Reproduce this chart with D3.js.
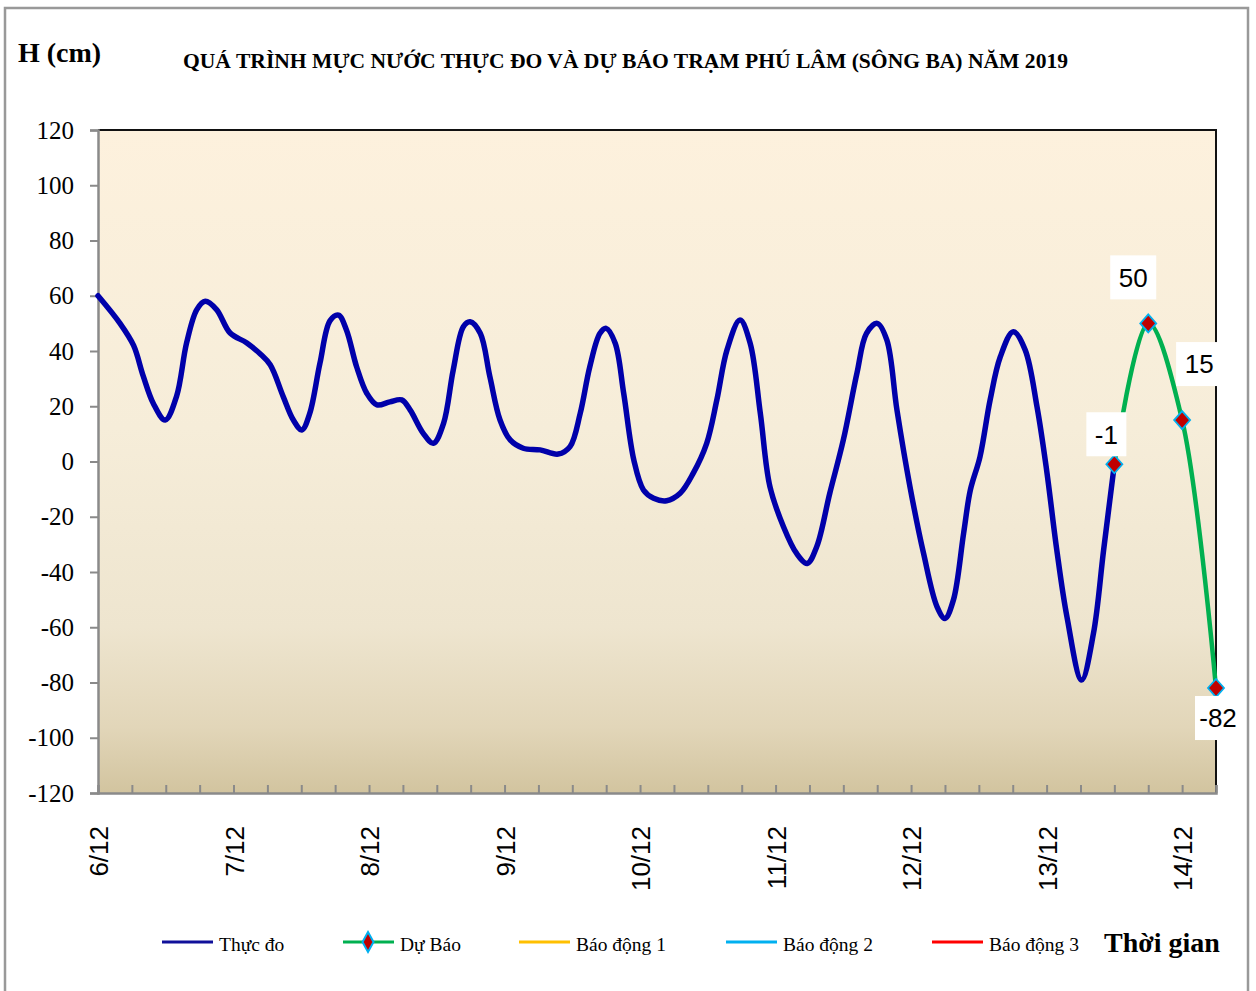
<!DOCTYPE html>
<html>
<head>
<meta charset="utf-8">
<script src="https://cdn.jsdelivr.net/npm/d3@7"></script>
<style>
  html, body { margin: 0; padding: 0; background: #ffffff; }
  svg { display: block; }
</style>
</head>
<body>
<div id="chart"></div>
<script>
// ---------------- DATA ----------------
const obsHours = [0, 3.9, 6.3, 8.0, 9.8, 11.9, 13.9, 15.7, 17.5, 19.0, 21.0, 23.4, 26.3, 28.7, 30.5, 32.8, 34.6, 36.1,
  37.5, 39.3, 41.1, 42.6, 44.0, 45.8, 47.6, 49.4, 51.7, 53.8, 55.3, 57.6, 59.4, 61.2, 62.9, 64.7, 65.9, 67.7,
  69.4, 71.2, 73.0, 75.3, 78.3, 81.5, 83.6, 85.4, 87.1, 88.9, 90.0, 91.6, 93.1, 94.9, 96.6, 98.4, 100.7, 103.1,
  105.4, 107.8, 109.6, 111.4, 113.7, 115.5, 117.3, 119.0, 121.4, 123.7, 125.6, 127.3, 129.6, 132.0, 134.4, 136.1,
  138.0, 139.7, 141.5, 143.8, 146.2, 148.6, 150.0, 151.5, 153.3, 154.5, 156.2, 158.0, 159.8, 162.1, 164.2, 166.3,
  168.0, 169.8, 171.6, 174.2, 176.3, 178.1, 180.0];
const obsLevels = [60, 50, 42, 31, 21, 15, 23.5, 43, 55, 58, 55, 46.5, 43, 39, 35, 23.5, 15, 11.4,
  17.4, 35.5, 51, 53, 47.6, 34.3, 24.7, 20.5, 21.6, 22.3, 18.6, 10.2, 6.6, 13.8, 33, 48.8, 50.6, 46.4,
  30.7, 15, 7.8, 4.8, 4.2, 2.7, 5.4, 17.4, 34.3, 46.4, 48.2, 42.8, 24.7, 0.5, -10.3, -13.3, -14.2, -11.5,
  -4.3, 6.6, 22.3, 40.4, 51.2, 42.8, 17.4, -9.1, -23.6, -33.2, -36.9, -30.8, -11.5, 7.8, 31.9, 46.4,
  50, 44, 18.6, -9.1, -33.2, -52.6, -56.8, -50.1, -26, -10.3, 1.7, 22.3, 37.9, 47, 40.4, 19.8,
  -3.1, -32, -56.2, -79.1, -62.2, -32, -1];

// Forecast
const fcHours = [180, 186, 192, 198];
const fcLevels = [-1, 50, 15, -82];
// label placement offsets (dx, dy) for forecast value labels
const fcLabelOffsets = [[-8, -30], [-15, -46], [17, -56], [2, 30]];

// Axis
const dayLabels = ["6/12", "7/12", "8/12", "9/12", "10/12", "11/12", "12/12", "13/12", "14/12"];
const yTicks = [-120, -100, -80, -60, -40, -20, 0, 20, 40, 60, 80, 100, 120];

// Legend
const legendNames = ["Thực đo", "Dự Báo", "Báo động 1", "Báo động 2", "Báo động 3"];
const legendColors = ["#0A0AA8", "#00B050", "#FFC000", "#00B0F0", "#FF0000"];

const titleText = "QUÁ TRÌNH MỰC NƯỚC THỰC ĐO VÀ DỰ BÁO TRẠM PHÚ LÂM (SÔNG BA) NĂM 2019";

// ---------------- LAYOUT ----------------
const W = 1256, H = 991;
const plot = { left: 98, right: 1216, top: 130, bottom: 793 };

const svg = d3.select("#chart").append("svg").attr("width", W).attr("height", H);

// outer frame
svg.append("rect").attr("x", 5).attr("y", 8).attr("width", 1243).attr("height", 1000)
  .attr("fill", "#ffffff").attr("stroke", "#999999").attr("stroke-width", 2.5);

const x = d3.scaleLinear().domain([0, 198]).range([plot.left, plot.right]);
const y = d3.scaleLinear().domain([-120, 120]).range([plot.bottom, plot.top]);

// gradient background
const defs = svg.append("defs");
const grad = defs.append("linearGradient").attr("id", "bg").attr("x1", 0).attr("y1", 0).attr("x2", 0).attr("y2", 1);
[[0, "#FDF1DD"], [0.45, "#F6EDD9"], [0.75, "#EEE5CF"], [0.9, "#E2D6B9"], [1, "#D2C49F"]].forEach(s =>
  grad.append("stop").attr("offset", s[0]).attr("stop-color", s[1]));

svg.append("rect").attr("x", plot.left).attr("y", plot.top)
  .attr("width", plot.right - plot.left).attr("height", plot.bottom - plot.top)
  .attr("fill", "url(#bg)");

// top & right border (black)
svg.append("path")
  .attr("d", `M${plot.left},${plot.top}H${plot.right}V${plot.bottom}`)
  .attr("fill", "none").attr("stroke", "#111").attr("stroke-width", 2);

// Y axis
const yAxis = d3.axisLeft(y).tickValues(yTicks).tickSize(8).tickFormat(d3.format("d"));
const gy = svg.append("g").attr("transform", `translate(${plot.left},0)`).call(yAxis);
gy.select(".domain").attr("stroke", "#8a8a8a").attr("stroke-width", 2.5);
gy.selectAll(".tick line").attr("stroke", "#8a8a8a").attr("stroke-width", 2);
gy.selectAll(".tick text").attr("x", -24).attr("font-family", "'Liberation Serif', 'Times New Roman', serif")
  .attr("font-size", 25).attr("fill", "#000").text(d => d < 0 ? "-" + Math.abs(d) : d);

// X axis (ticks every 6h, inside)
const xTickVals = d3.range(0, 199, 6);
const xAxis = d3.axisBottom(x).tickValues(xTickVals).tickSize(-8).tickFormat("");
const gx = svg.append("g").attr("transform", `translate(0,${plot.bottom})`).call(xAxis);
gx.select(".domain").attr("stroke", "#8a8a8a").attr("stroke-width", 2.5);
gx.selectAll(".tick line").attr("stroke", "#8a8a8a").attr("stroke-width", 2);

// day labels
svg.append("g").selectAll("text").data(dayLabels).join("text")
  .attr("transform", (d, i) => `translate(${x(i * 24) + 1},826) rotate(-90)`)
  .attr("text-anchor", "end").attr("dy", "0.36em")
  .attr("font-family", "'Liberation Sans', Arial, sans-serif").attr("font-size", 26).attr("fill", "#000")
  .text(d => d);

// lines
const line = d3.line().x(d => x(d[0])).y(d => y(d[1])).curve(d3.curveCatmullRom.alpha(0.5));
const obs = obsHours.map((h, i) => [h, obsLevels[i]]);
const fc = fcHours.map((h, i) => [h, fcLevels[i]]);

svg.append("path").attr("d", line(fc)).attr("fill", "none")
  .attr("stroke", legendColors[1]).attr("stroke-width", 4.5).attr("stroke-linejoin", "round");
svg.append("path").attr("d", line(obs)).attr("fill", "none")
  .attr("stroke", "#0000AA").attr("stroke-width", 5.5).attr("stroke-linejoin", "round").attr("stroke-linecap", "round");

// markers
const diamond = (cx, cy, w, h) => `M${cx},${cy - h}L${cx + w},${cy}L${cx},${cy + h}L${cx - w},${cy}Z`;
svg.append("g").selectAll("path").data(fc).join("path")
  .attr("d", d => diamond(x(d[0]), y(d[1]), 8, 9))
  .attr("fill", "#C00000").attr("stroke", "#00B0F0").attr("stroke-width", 1.8);

// value labels with white boxes
const lbl = svg.append("g").selectAll("g").data(fc).join("g")
  .attr("transform", (d, i) => `translate(${x(d[0]) + fcLabelOffsets[i][0]},${y(d[1]) + fcLabelOffsets[i][1]})`);
lbl.append("rect").attr("x", d => Math.abs(d[1]) < 10 ? -20 : -23).attr("y", -22)
  .attr("width", d => Math.abs(d[1]) < 10 ? 40 : 46).attr("height", 44).attr("fill", "#ffffff");
lbl.append("text").attr("text-anchor", "middle").attr("dy", "0.36em")
  .attr("font-family", "'Liberation Sans', Arial, sans-serif").attr("font-size", 26).attr("fill", "#000")
  .text(d => d[1] < 0 ? "-" + Math.abs(d[1]) : d[1]);

// titles
svg.append("text").attr("x", 18).attr("y", 62)
  .attr("font-family", "'Liberation Serif', 'Times New Roman', serif").attr("font-weight", "bold")
  .attr("font-size", 28).text("H (cm)");
svg.append("text").attr("x", 183).attr("y", 68)
  .attr("font-family", "'Liberation Serif', 'Times New Roman', serif").attr("font-weight", "bold")
  .attr("font-size", 21).attr("textLength", 885).attr("lengthAdjust", "spacingAndGlyphs").text(titleText);
svg.append("text").attr("x", 1104).attr("y", 952)
  .attr("font-family", "'Liberation Serif', 'Times New Roman', serif").attr("font-weight", "bold")
  .attr("font-size", 28).text("Thời gian");

// legend
const legX = [162, 343, 519, 726, 932];
const lg = svg.append("g").selectAll("g").data(legendNames).join("g")
  .attr("transform", (d, i) => `translate(${legX[i]},942)`);
lg.append("line").attr("x1", 0).attr("x2", 51).attr("y1", 0).attr("y2", 0)
  .attr("stroke", (d, i) => i === 0 ? "#10109A" : legendColors[i]).attr("stroke-width", 3);
lg.filter((d, i) => i === 1).append("path").attr("d", diamond(25, 0, 5.5, 10))
  .attr("fill", "#C00000").attr("stroke", "#00B0F0").attr("stroke-width", 2);
lg.append("text").attr("x", 57).attr("y", 9)
  .attr("font-family", "'Liberation Serif', 'Times New Roman', serif").attr("font-size", 19.5).attr("fill", "#000")
  .text(d => d);
</script>
</body>
</html>
